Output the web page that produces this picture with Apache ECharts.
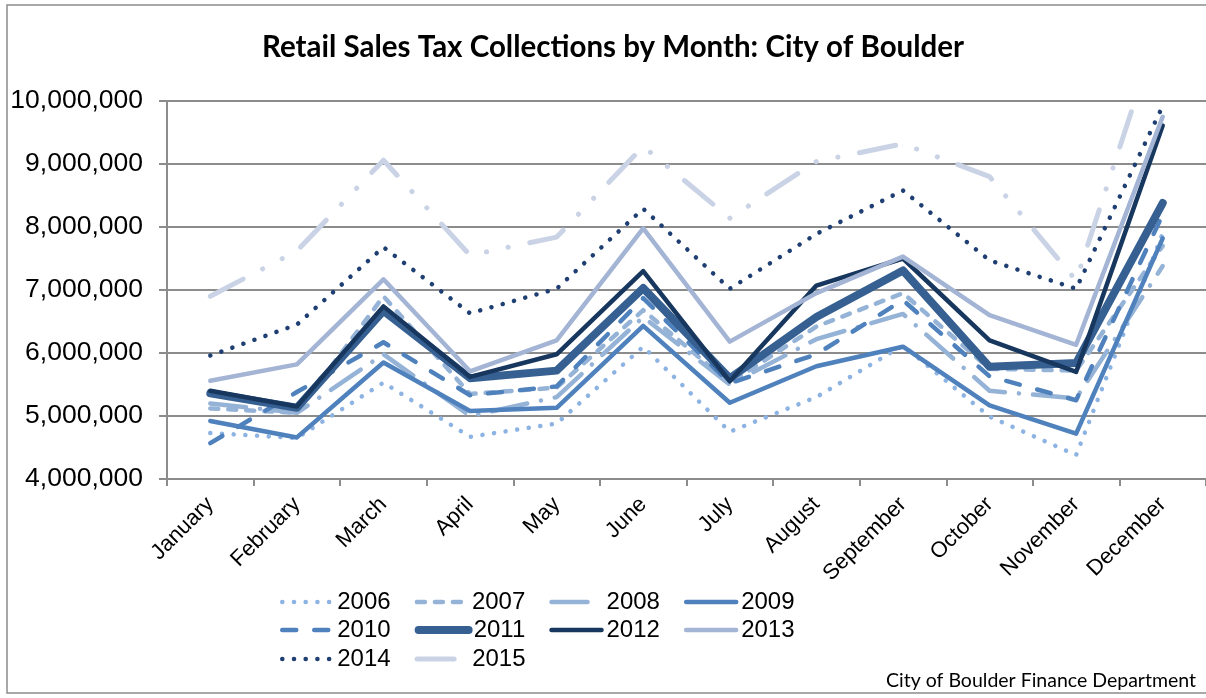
<!DOCTYPE html>
<html>
<head>
<meta charset="utf-8">
<title>Retail Sales Tax Collections by Month</title>
<script src="https://cdn.jsdelivr.net/npm/echarts@6/dist/echarts.min.js"></script>
<style>
  html, body { margin: 0; padding: 0; background: #fff; }
  #main { width: 1206px; height: 698px; }
</style>
</head>
<body>
<div id="main"></div>
<script>
// months on the x axis
var months = ["January", "February", "March", "April", "May", "June",
  "July", "August", "September", "October", "November", "December"];

// monthly collections (dollars)
var y2006 = [4730000, 4650000, 5530000, 4670000, 4880000, 6100000, 4750000, 5300000, 6120000, 4990000, 4380000, 7900000];
var y2007 = [5120000, 5050000, 6900000, 5350000, 5450000, 6680000, 5520000, 6420000, 6950000, 5750000, 5720000, 7700000];
var y2008 = [5200000, 5050000, 5980000, 5000000, 5300000, 6570000, 5500000, 6220000, 6620000, 5400000, 5280000, 7380000];
var y2009 = [4920000, 4660000, 5850000, 5080000, 5130000, 6430000, 5210000, 5790000, 6100000, 5170000, 4720000, 7820000];
var y2010 = [4570000, 5380000, 6170000, 5330000, 5470000, 6870000, 5520000, 5980000, 6840000, 5630000, 5250000, 8200000];
var y2011 = [5360000, 5130000, 6670000, 5600000, 5720000, 7030000, 5600000, 6570000, 7310000, 5780000, 5840000, 8380000];
var y2012 = [5400000, 5150000, 6740000, 5620000, 5980000, 7300000, 5550000, 7070000, 7500000, 6200000, 5700000, 9610000];
var y2013 = [5560000, 5820000, 7170000, 5710000, 6200000, 7980000, 6180000, 6950000, 7530000, 6600000, 6130000, 9750000];
var y2014 = [5960000, 6450000, 7680000, 6630000, 7020000, 8290000, 7020000, 7890000, 8580000, 7470000, 7020000, 9920000];
var y2015 = [6900000, 7620000, 9060000, 7550000, 7840000, 9280000, 8140000, 9040000, 9320000, 8800000, 7150000, 11350000];

var yTicks = { min: 4000000, max: 10000000, step: 1000000 };

// legend rows as laid out in the picture
var legendRows = [
  ["2006", "2007", "2008", "2009"],
  ["2010", "2011", "2012", "2013"],
  ["2014", "2015"],
];

var gridColor = "#8c8c8c";
var arial = "'Liberation Sans', Arial, sans-serif";

function mkLine(name, data, color, width, dash) {
  return {
    name: name,
    type: "line",
    data: data,
    symbol: "none",
    clip: true,
    lineStyle: {
      color: color,
      width: width,
      type: dash,
      cap: "round",
      join: "round",
    },
    itemStyle: { color: color },
  };
}

var series = [
  mkLine("2006", y2006, "#8db3e2", 4.5, [0.1, 11.6]),
  mkLine("2007", y2007, "#95b3d7", 4.5, [8, 10]),
  mkLine("2008", y2008, "#95b3d7", 4.5, [36, 14, 0.1, 14]),
  mkLine("2009", y2009, "#4f81bd", 4.5, "solid"),
  mkLine("2010", y2010, "#4f81bd", 4.5, [14, 18]),
  mkLine("2011", y2011, "#376092", 8, "solid"),
  mkLine("2012", y2012, "#17375e", 4.5, "solid"),
  mkLine("2013", y2013, "#a3b4d4", 4.5, "solid"),
  mkLine("2014", y2014, "#1f3f73", 4.5, [0.1, 11.6]),
  mkLine("2015", y2015, "#c9d3e5", 5, [37, 22, 0.1, 22, 0.1, 22]),
];

function legendItem(name) {
  var s = series.filter(function (x) { return x.name === name; })[0];
  return { name: name, lineStyle: s.lineStyle, itemStyle: { opacity: 0 } };
}

var myChart = echarts.init(document.getElementById("main"));

var option = {
  backgroundColor: "#fff",
  animation: false,
  title: {
    text: "Retail Sales Tax Collections by Month: City of Boulder",
    left: 257,
    top: 27,
    textStyle: {
      fontFamily: "Lato, 'Open Sans', sans-serif",
      fontWeight: "bold",
      fontSize: 29.5,
      color: "#000",
    },
  },
  grid: { left: 167, top: 101, width: 1047, height: 378 },
  xAxis: {
    type: "category",
    data: months,
    boundaryGap: true,
    axisLine: { lineStyle: { color: gridColor, width: 2 } },
    axisTick: { show: true, length: 7, lineStyle: { color: gridColor, width: 2 } },
    axisLabel: {
      interval: 0,
      rotate: 45,
      margin: 22,
      color: "#000",
      fontSize: 22,
      fontFamily: arial,
    },
  },
  yAxis: {
    type: "value",
    min: yTicks.min,
    max: yTicks.max,
    interval: yTicks.step,
    axisLine: { show: true, lineStyle: { color: gridColor, width: 2 } },
    axisTick: { show: true, length: 8, lineStyle: { color: gridColor, width: 2 } },
    splitLine: { lineStyle: { color: gridColor, width: 2 } },
    axisLabel: {
      margin: 24,
      color: "#000",
      fontSize: 26.5,
      fontFamily: arial,
      formatter: function (v) {
        return v.toLocaleString("en-US");
      },
    },
  },
  legend: legendRows.map(function (row, i) {
    return {
      data: row.map(legendItem),
      orient: "horizontal",
      left: 275,
      top: [585, 613, 642][i],
      itemWidth: 50,
      itemHeight: 14,
      itemGap: 24,
      itemStyle: { opacity: 0 },
      textStyle: { fontFamily: arial, fontSize: 24, color: "#000" },
    };
  }),
  graphic: [
    {
      type: "rect",
      shape: { x: 7, y: 5, width: 1230, height: 688 },
      style: { fill: null, stroke: "#8c8c8c", lineWidth: 1.5 },
      silent: true,
      z: -1,
    },
    {
      type: "text",
      right: 10,
      top: 671,
      style: {
        text: "City of Boulder Finance Department",
        fill: "#000",
        font: "19.5px Lato, 'Open Sans', sans-serif",
      },
    },
  ],
  series: series,
};

option && myChart.setOption(option);
</script>
</body>
</html>
